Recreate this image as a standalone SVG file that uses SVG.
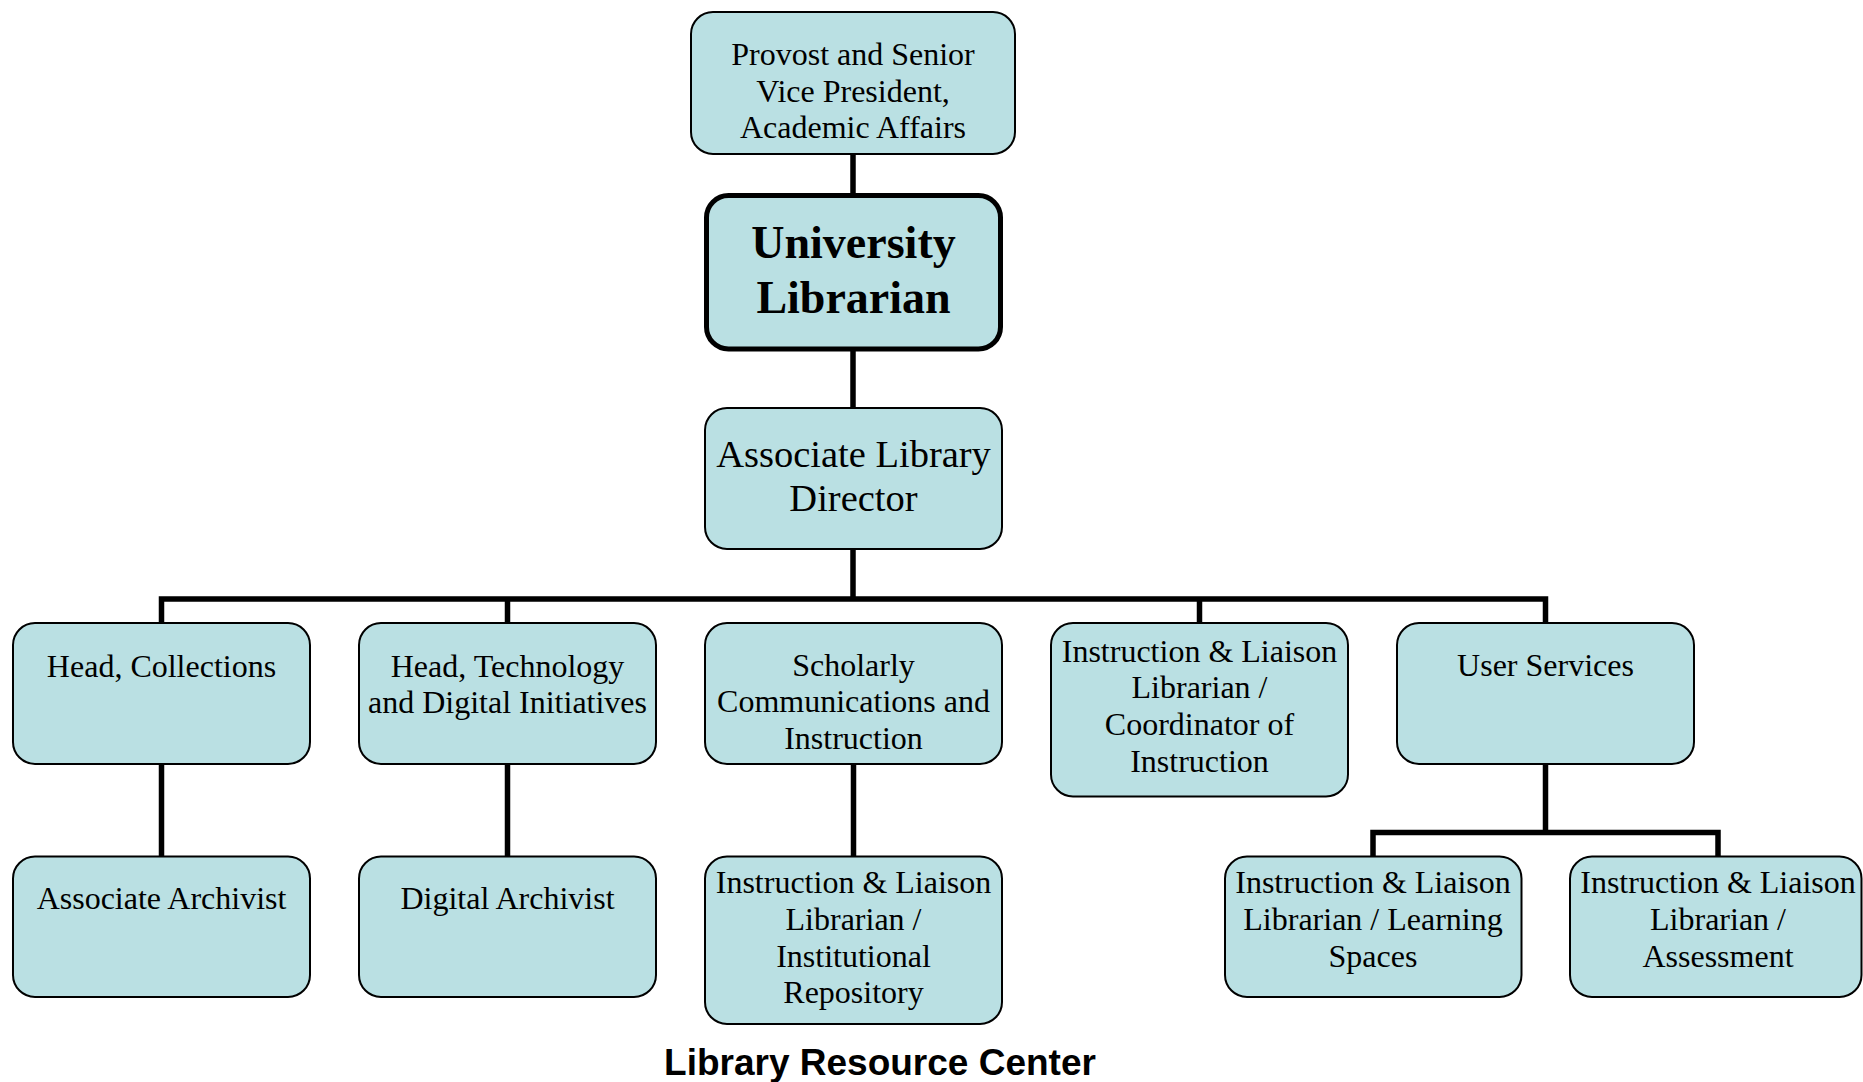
<svg xmlns="http://www.w3.org/2000/svg" width="1863" height="1082" viewBox="0 0 1863 1082">
<style>
.box{fill:#BAE0E3;stroke:#000;stroke-width:2}
.big{fill:#BAE0E3;stroke:#000;stroke-width:5}
.t{font-family:"Liberation Serif","Times New Roman",serif;font-size:32px;fill:#000;text-anchor:middle}
.t38{font-size:38.5px}
.tb{font-family:"Liberation Serif","Times New Roman",serif;font-size:46px;font-weight:bold;fill:#000;text-anchor:middle}
.foot{font-family:"Liberation Sans",Arial,sans-serif;font-size:37px;font-weight:bold;fill:#000;text-anchor:middle}
.c{fill:none;stroke:#000;stroke-width:5.5;stroke-linejoin:miter}
</style>
<rect width="1863" height="1082" fill="#fff"/>
<g id="connectors">
<path class="c" d="M853 154V194"/>
<path class="c" d="M853 350V408"/>
<path class="c" d="M853 549V599"/>
<path class="c" d="M161.5 623V599H1545.5V623"/>
<path class="c" d="M507.5 599V623"/>
<path class="c" d="M1199.5 599V623"/>
<path class="c" d="M161.5 764V857"/>
<path class="c" d="M507.5 764V857"/>
<path class="c" d="M853.5 764V857"/>
<path class="c" d="M1545.5 764V832.5"/>
<path class="c" d="M1373 857V832.5H1718V857"/>
</g>
<g id="provost">
<rect class="box" x="691" y="12" width="324" height="142" rx="22"/>
<text class="t" x="853" y="65">Provost and Senior</text>
<text class="t" x="853" y="102">Vice President,</text>
<text class="t" x="853" y="138">Academic Affairs</text>
</g>
<g id="university-librarian">
<rect class="big" x="706.5" y="195.5" width="294" height="153.5" rx="22"/>
<text class="tb" x="853.5" y="258">University</text>
<text class="tb" x="853.5" y="313">Librarian</text>
</g>
<g id="associate-director">
<rect class="box" x="705" y="408" width="297" height="141" rx="22"/>
<text class="t t38" x="853.5" y="467">Associate Library</text>
<text class="t t38" x="853.5" y="511">Director</text>
</g>
<g id="head-collections">
<rect class="box" x="13" y="623" width="297" height="141" rx="22"/>
<text class="t" x="161.5" y="676.5">Head, Collections</text>
</g>
<g id="head-technology">
<rect class="box" x="359" y="623" width="297" height="141" rx="22"/>
<text class="t" x="507.5" y="676.5">Head, Technology</text>
<text class="t" x="507.5" y="713">and Digital Initiatives</text>
</g>
<g id="scholarly-communications">
<rect class="box" x="705" y="623" width="297" height="141" rx="22"/>
<text class="t" x="853.5" y="675.5">Scholarly</text>
<text class="t" x="853.5" y="712">Communications and</text>
<text class="t" x="853.5" y="748.5">Instruction</text>
</g>
<g id="coordinator-instruction">
<rect class="box" x="1051" y="623" width="297" height="173.5" rx="22"/>
<text class="t" x="1199.5" y="661.5">Instruction &amp; Liaison</text>
<text class="t" x="1199.5" y="698">Librarian /</text>
<text class="t" x="1199.5" y="735">Coordinator of</text>
<text class="t" x="1199.5" y="771.5">Instruction</text>
</g>
<g id="user-services">
<rect class="box" x="1397" y="623" width="297" height="141" rx="22"/>
<text class="t" x="1545.5" y="676">User Services</text>
</g>
<g id="associate-archivist">
<rect class="box" x="13" y="856.5" width="297" height="140.5" rx="22"/>
<text class="t" x="161.5" y="909">Associate Archivist</text>
</g>
<g id="digital-archivist">
<rect class="box" x="359" y="856.5" width="297" height="140.5" rx="22"/>
<text class="t" x="507.5" y="909">Digital Archivist</text>
</g>
<g id="institutional-repository">
<rect class="box" x="705" y="856.5" width="297" height="167.5" rx="22"/>
<text class="t" x="853.5" y="893">Instruction &amp; Liaison</text>
<text class="t" x="853.5" y="930">Librarian /</text>
<text class="t" x="853.5" y="966.5">Institutional</text>
<text class="t" x="853.5" y="1003">Repository</text>
</g>
<g id="learning-spaces">
<rect class="box" x="1225" y="856.5" width="296.5" height="140.5" rx="22"/>
<text class="t" x="1373" y="893">Instruction &amp; Liaison</text>
<text class="t" x="1373" y="930">Librarian / Learning</text>
<text class="t" x="1373" y="966.5">Spaces</text>
</g>
<g id="assessment">
<rect class="box" x="1570" y="856.5" width="291.5" height="140.5" rx="22"/>
<text class="t" x="1718" y="893">Instruction &amp; Liaison</text>
<text class="t" x="1718" y="930">Librarian /</text>
<text class="t" x="1718" y="966.5">Assessment</text>
</g>
<text class="foot" x="880" y="1075">Library Resource Center</text>
</svg>
